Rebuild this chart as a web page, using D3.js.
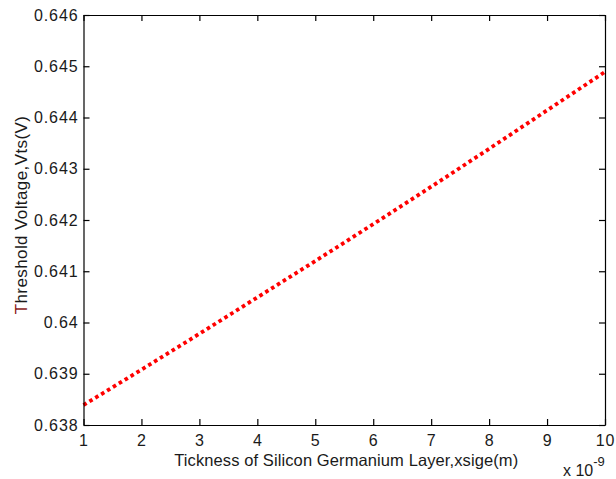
<!DOCTYPE html>
<html lang="en">
<head>
  <meta charset="UTF-8">
  <title>Threshold Voltage</title>
  <script src="https://cdnjs.cloudflare.com/ajax/libs/d3/7.8.5/d3.min.js"></script>
  <style type="text/css" media="all">
    body { margin: 0; background: #fff; }
    svg text { font-family: "Liberation Sans", Arial, sans-serif; fill: #1a1a1a; }
  </style>
</head>
<body>
  <div id="graph"></div>
  <script>
    // thickness in units of 1e-9 m
    var thickness = [1, 2, 3, 4, 5, 6, 7, 8, 9, 10];
    var vts = [0.63839, 0.63908, 0.63978, 0.64049, 0.64120, 0.64192, 0.64265, 0.64339, 0.64414, 0.64489];
    var xTicks = [1, 2, 3, 4, 5, 6, 7, 8, 9, 10];
    var yTicks = [0.638, 0.639, 0.64, 0.641, 0.642, 0.643, 0.644, 0.645, 0.646];

    var width = 616, height = 479;
    var margins = { top: 15, right: 11, bottom: 54, left: 83.5 };

    var svg = d3.select('#graph').append('svg')
        .attr('width', width)
        .attr('height', height);

    var x = d3.scaleLinear().domain([1, 10]).range([margins.left, width - margins.right]);
    var y = d3.scaleLinear().domain([0.638, 0.646]).range([height - margins.bottom, margins.top]);

    var tickLen = 6;
    var noLabel = function() { return ''; };

    // data line first, box on top
    var line = d3.line()
        .x(function(d, i) { return x(thickness[i]); })
        .y(function(d) { return y(d); })
        .curve(d3.curveMonotoneX);

    svg.append('path')
        .datum(vts)
        .attr('d', line)
        .attr('fill', 'none')
        .attr('stroke', '#ff0000')
        .attr('stroke-width', 3.8)
        .attr('stroke-dasharray', '3.6,3.3');

    var xAxisBottom = d3.axisBottom(x).tickValues(xTicks).tickSizeInner(-tickLen).tickSizeOuter(0).tickPadding(10)
        .tickFormat(d3.format('d'));
    var yAxisLeft = d3.axisLeft(y).tickValues(yTicks).tickSizeInner(-tickLen).tickSizeOuter(0).tickPadding(5)
        .tickFormat(function(d) { return +d.toFixed(3) + ''; });
    var xAxisTop = d3.axisTop(x).tickValues(xTicks).tickSizeInner(-tickLen).tickSizeOuter(0).tickFormat(noLabel);
    var yAxisRight = d3.axisRight(y).tickValues(yTicks).tickSizeInner(-tickLen).tickSizeOuter(0).tickFormat(noLabel);

    function styleAxis(g) {
      g.attr('font-size', 16);
      g.selectAll('path, line').attr('stroke', '#000').attr('stroke-width', 1.2);
      g.selectAll('text').attr('fill', '#1a1a1a').attr('letter-spacing', 0.9)
        .attr('font-family', '"Liberation Sans", Arial, sans-serif');
    }

    svg.append('g').attr('transform', 'translate(0,' + y.range()[0] + ')').call(xAxisBottom).call(styleAxis);
    svg.append('g').attr('transform', 'translate(' + x.range()[0] + ',0)').call(yAxisLeft).call(styleAxis);
    svg.append('g').attr('transform', 'translate(0,' + y.range()[1] + ')').call(xAxisTop).call(styleAxis);
    svg.append('g').attr('transform', 'translate(' + x.range()[1] + ',0)').call(yAxisRight).call(styleAxis);

    // x label
    svg.append('text')
        .attr('x', (x.range()[0] + x.range()[1]) / 2 + 2)
        .attr('y', 466)
        .attr('text-anchor', 'middle')
        .attr('font-size', 16.5)
        .attr('letter-spacing', 0.1)
        .text('Tickness of Silicon Germanium Layer,xsige(m)');

    // exponent
    var ex = svg.append('text')
        .attr('x', 563)
        .attr('y', 476)
        .attr('font-size', 16);
    ex.append('tspan').text('x 10');
    ex.append('tspan').attr('dy', -10).attr('font-size', 13).text('-9');

    // y label
    var yl = svg.append('text')
        .attr('transform', 'translate(27,215) rotate(-90)')
        .attr('text-anchor', 'middle')
        .attr('font-size', 17)
        .attr('letter-spacing', 0.4);
    yl.append('tspan').attr('fill', '#8b1a1a').text('T');
    yl.append('tspan').text('hreshold Voltage,Vts(V)');
  </script>
</body>
</html>
